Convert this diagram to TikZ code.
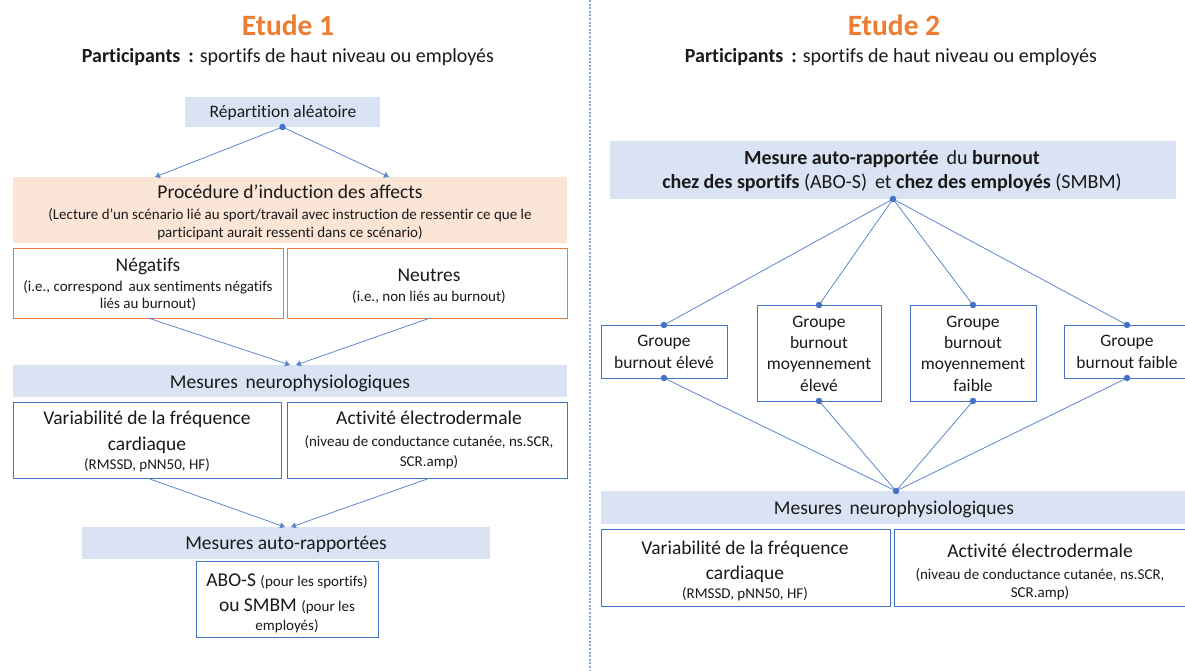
\documentclass[tikz,border=0pt]{standalone}
\usepackage{fontspec}
\setmainfont{Carlito}[Ligatures={NoCommon}]
\usetikzlibrary{arrows.meta}
\definecolor{orng}{HTML}{ED7D31}
\definecolor{linkblue}{HTML}{4472C4}
\definecolor{bandfill}{HTML}{DAE3F3}
\definecolor{peach}{HTML}{FBE5D6}
\definecolor{divcol}{HTML}{8FAADC}
\definecolor{txt}{HTML}{1A1A1A}
\newcommand\smtxt[1]{{\fontsize{15}{18}\selectfont #1}}
\begin{document}
\begin{tikzpicture}[x=1pt,y=-1pt,
  every node/.style={text=txt},
  area/.style={anchor=north west, inner sep=0pt, outer sep=0pt},
  band/.style={area, fill=bandfill},
  peachbox/.style={area, fill=peach},
  obox/.style={area, draw=orng, line width=0.9pt},
  bbox/.style={area, draw=linkblue, line width=0.8pt},
  ln/.style={anchor=base, inner sep=0pt, font=\fontsize{19.5}{23}\selectfont},
  lnsm/.style={anchor=base, inner sep=0pt, font=\fontsize{15}{18}\selectfont},
  lngr/.style={anchor=base, inner sep=0pt, font=\fontsize{17.5}{21}\selectfont},
  lnpart/.style={anchor=base, inner sep=0pt, font=\fontsize{20}{24}\selectfont},
  title/.style={anchor=base, inner sep=0pt, text=orng, font=\fontsize{29.5}{34}\selectfont\bfseries},
  conn/.style={draw=linkblue!85, line width=0.8pt},
  arr/.style={conn, -{Triangle[width=6pt,length=5pt]}},
  dot/.style={circle, fill=linkblue, inner sep=0pt, minimum size=6.5pt}
]
\useasboundingbox (0,0) rectangle (1185,671);
\fill[white] (0,0) rectangle (1185,671);

% separator between the two studies
\draw[divcol, line width=1.2pt, dash pattern=on 2pt off 1.6pt] (590,0) -- (590,671);

% ---------------- Etude 1 ----------------
\node[title] (t1) at (288,35.5) {Etude 1};
\node[lnpart] (p1) at (288,63) {\textbf{Participants \,:} sportifs de haut niveau ou employés};

\node[band, minimum width=195pt, minimum height=30pt] (rep) at (185,97) {};
\node[ln, font=\fontsize{17.5}{21}\selectfont] (repT) at (283,117.5) {Répartition aléatoire};

\node[peachbox, minimum width=554pt, minimum height=66pt] (proc) at (13,177) {};
\node[ln] (procT) at (290,199) {Procédure d’induction des affects};
\node[lnsm] (procS1) at (290,219) {(Lecture d’un scénario lié au sport/travail avec instruction de ressentir ce que le};
\node[lnsm] (procS2) at (290,237) {participant aurait ressenti dans ce scénario)};

\node[obox, minimum width=270pt, minimum height=70pt] (neg) at (13,248) {};
\node[ln] (negT) at (148,271) {Négatifs};
\node[lnsm] (negS1) at (148,291) {(i.e., correspond \,aux sentiments négatifs};
\node[lnsm] (negS2) at (148,308) {liés au burnout)};

\node[obox, minimum width=280pt, minimum height=70pt] (neu) at (287,248) {};
\node[ln] (neuT) at (429,281) {Neutres};
\node[lnsm] (neuS) at (429,301) {(i.e., non liés au burnout)};

\node[band, minimum width=554pt, minimum height=32pt] (neuroL) at (13,365) {};
\node[ln] (neuroLT) at (290,388) {Mesures \,neurophysiologiques};

\node[bbox, minimum width=268pt, minimum height=76pt] (varL) at (13,402) {};
\node[ln] (varL1) at (147,424) {Variabilité de la fréquence};
\node[ln] (varL2) at (147,450) {cardiaque};
\node[lnsm] (varL3) at (147,469) {(RMSSD, pNN50, HF)};

\node[bbox, minimum width=280pt, minimum height=76pt] (actL) at (287,402) {};
\node[ln] (actL1) at (429,424) {Activité électrodermale};
\node[lnsm] (actL2) at (429,446) {(niveau de conductance cutanée, ns.SCR,};
\node[lnsm] (actL3) at (429,466) {SCR.amp)};

\node[band, minimum width=408pt, minimum height=32pt] (autoL) at (82,527) {};
\node[ln] (autoLT) at (286,549) {Mesures auto-rapportées};

\node[bbox, minimum width=182pt, minimum height=76pt] (abo) at (196,561) {};
\node[ln] (abo1) at (287,586) {ABO-S \smtxt{(pour les sportifs)}};
\node[ln] (abo2) at (287,611) {ou SMBM \smtxt{(pour les}};
\node[lnsm] (abo3) at (287,630) {employés)};

% connectors of Etude 1
\coordinate (procL) at (155,177);
\coordinate (procR) at (389,177);
\coordinate (negB) at (148,318);
\coordinate (neuB) at (430,318);
\coordinate (neuroInL) at (290,365);
\coordinate (neuroInR) at (296,365);
\coordinate (varB) at (147,478);
\coordinate (actB) at (430,478);
\coordinate (autoInL) at (285,527);
\coordinate (autoInR) at (291,527);

\draw[arr] (rep.south) -- (procL);
\draw[arr] (rep.south) -- (procR);
\node[dot] (repDot) at (rep.south) {};
\draw[arr] (negB) -- (neuroInL);
\draw[arr] (neuB) -- (neuroInR);
\draw[arr] (varB) -- (autoInL);
\draw[arr] (actB) -- (autoInR);

% ---------------- Etude 2 ----------------
\node[title] (t2) at (894,35.5) {Etude 2};
\node[lnpart] (p2) at (891,63) {\textbf{Participants \,:} sportifs de haut niveau ou employés};

\node[band, minimum width=566pt, minimum height=58pt] (mes) at (610,141) {};
\node[lnpart] (mes1) at (892,165) {\textbf{Mesure auto-rapportée} \,du \textbf{burnout}};
\node[lnpart] (mes2) at (892,189) {\textbf{chez des sportifs} (ABO-S) \,et \textbf{chez des employés} (SMBM)};

\node[bbox, minimum width=126pt, minimum height=53pt] (g1) at (601,325) {};
\node[lngr] (g1a) at (664,346) {Groupe};
\node[lngr] (g1b) at (664,368) {burnout élevé};

\node[bbox, minimum width=124pt, minimum height=96pt] (g2) at (757,305) {};
\node[lngr] (g2a) at (819,327) {Groupe};
\node[lngr] (g2b) at (819,348) {burnout};
\node[lngr] (g2c) at (819,369) {moyennement};
\node[lngr] (g2d) at (819,391) {élevé};

\node[bbox, minimum width=126pt, minimum height=96pt] (g3) at (910,305) {};
\node[lngr] (g3a) at (973,327) {Groupe};
\node[lngr] (g3b) at (973,348) {burnout};
\node[lngr] (g3c) at (973,369) {moyennement};
\node[lngr] (g3d) at (973,391) {faible};

\node[bbox, minimum width=126pt, minimum height=53pt] (g4) at (1064,325) {};
\node[lngr] (g4a) at (1127,346) {Groupe};
\node[lngr] (g4b) at (1127,368) {burnout faible};

\node[band, minimum width=590pt, minimum height=33pt] (neuroR) at (601,491) {};
\node[ln] (neuroRT) at (894,514) {Mesures \,neurophysiologiques};

\node[bbox, minimum width=289pt, minimum height=77pt] (varR) at (601,529) {};
\node[ln] (varR1) at (745,554) {Variabilité de la fréquence};
\node[ln] (varR2) at (745,579) {cardiaque};
\node[lnsm] (varR3) at (745,598) {(RMSSD, pNN50, HF)};

\node[bbox, minimum width=300pt, minimum height=77pt] (actR) at (894,529) {};
\node[ln] (actR1) at (1040,557) {Activité électrodermale};
\node[lnsm] (actR2) at (1040,579) {(niveau de conductance cutanée, ns.SCR,};
\node[lnsm] (actR3) at (1040,597) {SCR.amp)};

% connectors of Etude 2
\foreach \g in {g1,g2,g3,g4}{
  \draw[conn] (mes.south) -- (\g.north);
  \draw[conn] (\g.south) -- (neuroR.north);
}
\node[dot] (mesDot) at (mes.south) {};
\node[dot] (neuroRDot) at (neuroR.north) {};
\foreach \g in {g1,g2,g3,g4}{
  \node[dot] (\g top) at (\g.north) {};
  \node[dot] (\g bot) at (\g.south) {};
}
\end{tikzpicture}
\end{document}
